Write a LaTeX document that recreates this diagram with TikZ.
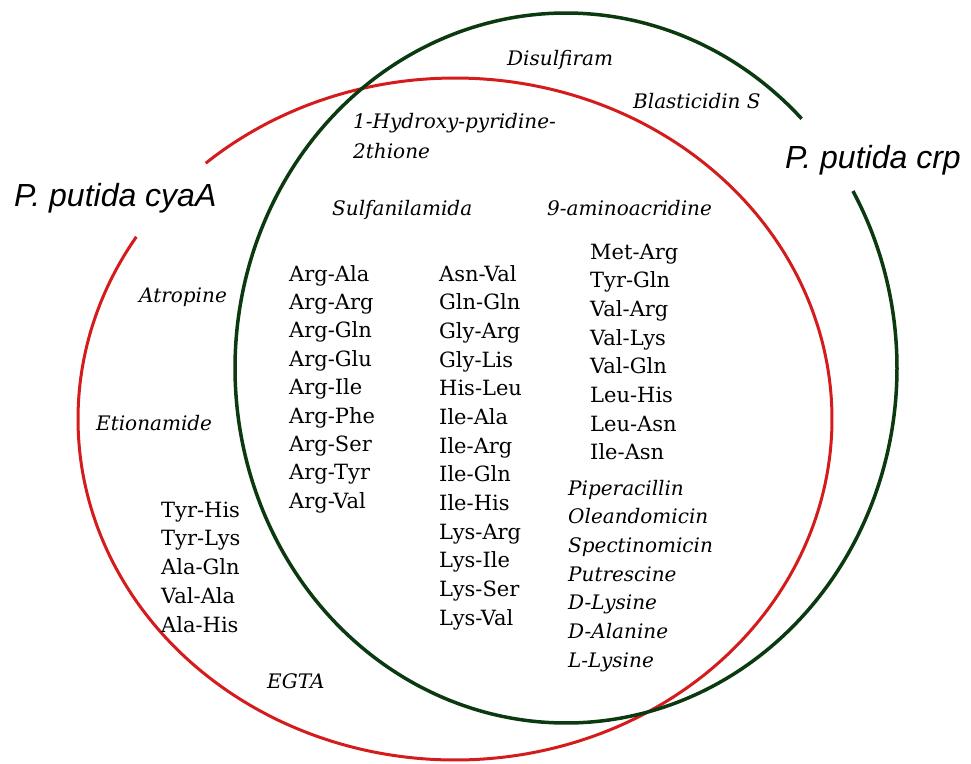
\documentclass[tikz,border=0pt]{standalone}
\usepackage{fontspec}
\setmainfont{DejaVu Serif}
\newfontfamily\sansfam{Liberation Sans}
\definecolor{vred}{RGB}{212,28,28}
\definecolor{vgreen}{RGB}{12,58,16}
\begin{document}
\begin{tikzpicture}[x=1pt,y=-1pt,
  pep/.style={anchor=base west, inner sep=0pt, font=\fontsize{21}{25}\selectfont},
  drug/.style={anchor=base west, inner sep=0pt, font=\fontsize{20}{24}\selectfont\itshape},
  strain/.style={anchor=base west, inner sep=0pt, font=\sansfam\itshape\fontsize{32}{36}\selectfont},
  redline/.style={vred, line width=3pt},
  greenline/.style={vgreen, line width=3.5pt}]
\useasboundingbox (0,0) rectangle (971,763);
% circles
\draw[redline] plot[domain=228.6:572.3, samples=300, smooth] ({455+377*cos(\x)},{419+341*sin(\x)});
\draw[greenline] plot[domain=330.1:675.4, samples=300, smooth] ({566+331*cos(\x)},{368+355*sin(\x)});
% strain labels
\node[strain] (cyaA) at (14,206) {P. putida cyaA};
\node[strain] (crp) at (785,168) {P. putida crp};
% italic labels
\node[drug] (disulf) at (507,65) {Disulfiram};
\node[drug] (blast) at (633,108) {Blasticidin S};
\node[drug] (hydroxy) at (353,128) {1-Hydroxy-pyridine-};
\node[drug] (thione) at (353,158) {2thione};
\node[drug] (sulfa) at (332,215) {Sulfanilamida};
\node[drug] (amino) at (547,215) {9-aminoacridine};
\node[drug] (atro) at (139,302) {Atropine};
\node[drug] (etio) at (96,430) {Etionamide};
\node[drug] (egta) at (267,688) {EGTA};
% column 1
\foreach \t [count=\i] in {Arg-Ala,Arg-Arg,Arg-Gln,Arg-Glu,Arg-Ile,Arg-Phe,Arg-Ser,Arg-Tyr,Arg-Val}
  \node[pep] (ca\i) at (289,{281+28.4*(\i-1)}) {\t};
% column 2
\foreach \t [count=\i] in {Asn-Val,Gln-Gln,Gly-Arg,Gly-Lis,His-Leu,Ile-Ala,Ile-Arg,Ile-Gln,Ile-His,Lys-Arg,Lys-Ile,Lys-Ser,Lys-Val}
  \node[pep] (cb\i) at (439,{281+28.67*(\i-1)}) {\t};
% column 3
\foreach \t [count=\i] in {Met-Arg,Tyr-Gln,Val-Arg,Val-Lys,Val-Gln,Leu-His,Leu-Asn,Ile-Asn}
  \node[pep] (cc\i) at (590,{259+28.7*(\i-1)}) {\t};
% italic column
\foreach \t [count=\i] in {Piperacillin,Oleandomicin,Spectinomicin,Putrescine,D-Lysine,D-Alanine,L-Lysine}
  \node[drug] (cd\i) at (568,{495+28.67*(\i-1)}) {\t};
% left column
\foreach \t [count=\i] in {Tyr-His,Tyr-Lys,Ala-Gln,Val-Ala,Ala-His}
  \node[pep] (ce\i) at (161,{517+28.75*(\i-1)}) {\t};
\end{tikzpicture}
\end{document}
